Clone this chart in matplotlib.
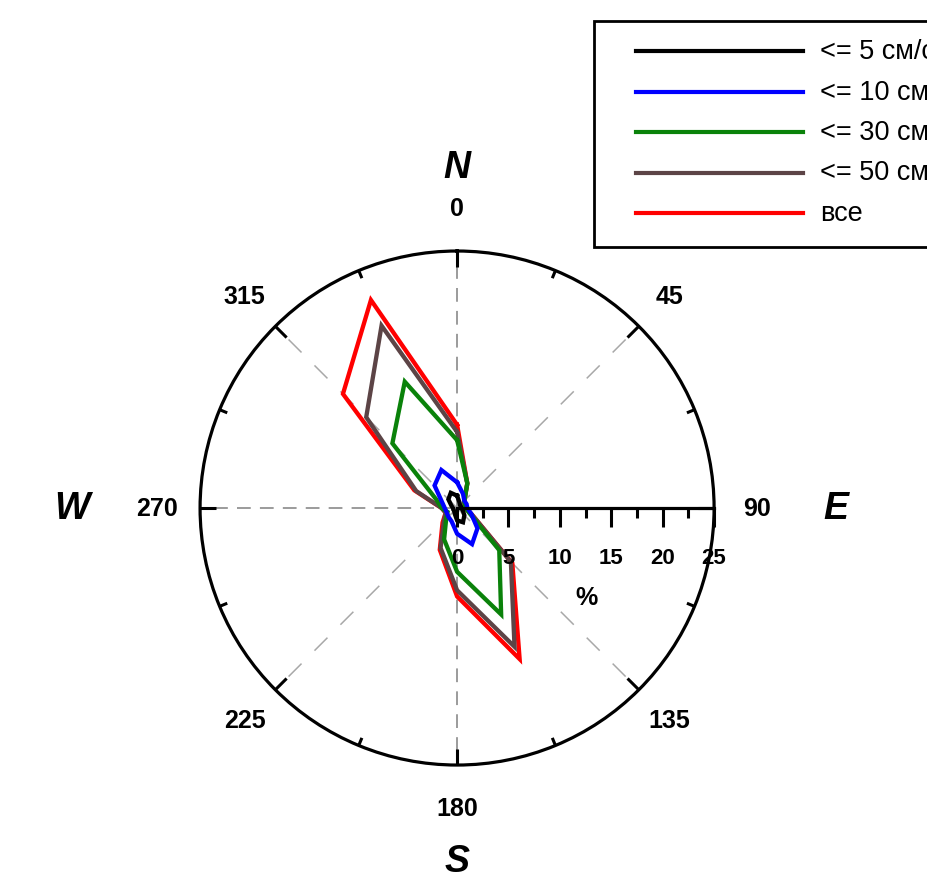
import numpy as np
import matplotlib
matplotlib.use("Agg")
import matplotlib.pyplot as plt
from matplotlib.lines import Line2D
from matplotlib.patches import Rectangle

plt.rcParams['font.family'] = ['Liberation Sans', 'DejaVu Sans']

# 16 directions, degrees clockwise from north
directions = np.arange(0, 360, 22.5)

# frequency, %
speed_5 = [1.2, 0.6, 0.4, 0.4, 0.4, 0.6, 1.0, 1.5, 1.2, 0.6, 0.4, 0.4, 0.4, 0.6, 1.2, 1.6]
speed_10 = [2.5, 1.5, 1.0, 1.0, 1.0, 1.5, 2.8, 3.8, 2.5, 1.4, 1.2, 1.1, 1.2, 1.6, 3.1, 4.0]
speed_30 = [6.6, 2.6, 1.0, 0.8, 0.8, 1.3, 5.8, 11.2, 6.2, 3.3, 1.5, 1.0, 1.5, 2.2, 8.9, 13.3]
speed_50 = [7.4, 2.6, 1.0, 0.8, 0.8, 1.5, 7.4, 14.6, 8.0, 4.2, 1.8, 1.2, 1.5, 4.3, 12.5, 19.2]
speed_all = [8.1, 2.6, 1.0, 0.8, 0.8, 1.5, 7.6, 15.9, 8.6, 4.4, 2.0, 1.2, 1.5, 4.5, 15.7, 21.9]

labels = ['<= 5 см/с', '<= 10 см/с', '<= 30 см/с', '<= 50 см/с', 'все']
series = [speed_5, speed_10, speed_30, speed_50, speed_all]
colors = ['#000000', '#0000ff', '#0a820a', '#5c4446', '#ff0000']

angle_ticks = [0, 45, 90, 135, 180, 225, 270, 315]
r_ticks = [0, 5, 10, 15, 20, 25]
compass = ['N', 'E', 'S', 'W']

fig = plt.figure(figsize=(9.28, 8.79), dpi=100)
rect = [0.2156, 0.1285, 0.5539, 0.5848]

# polar part
ax = fig.add_axes(rect, projection='polar')
ax.set_theta_zero_location('N')
ax.set_theta_direction(-1)
ax.set_ylim(0, 25)
ax.set_yticks([])
ax.set_xticks(np.deg2rad(angle_ticks))
ax.set_xticklabels([])
ax.tick_params(axis='x', length=0)
ax.xaxis.grid(True, linestyle=(0, (9, 6)), color='#808080', lw=1.1)
for i, gl in enumerate(ax.xaxis.get_gridlines()):
    if angle_ticks[i] % 90:
        gl.set_color('#a8a8a8')
        gl.set_linestyle((0, (12, 12)))
ax.spines['polar'].set_linewidth(2.3)

# inward ticks on the rim, long every 45, short in between
for a in np.arange(0, 360, 22.5):
    tl = 1.55 if a % 45 == 0 else 0.8
    ax.plot([np.deg2rad(a)] * 2, [25 - tl, 25], color='black', lw=2.2,
            solid_capstyle='butt', clip_on=False)

# draw biggest first so the small ones sit on top
for vals, col in reversed(list(zip(series, colors))):
    th = np.deg2rad(np.append(directions, directions[0]))
    rr = np.append(vals, vals[0])
    ax.plot(th, rr, color=col, lw=3.1, solid_joinstyle='miter', clip_on=False)

for a in angle_ticks:
    ax.text(np.deg2rad(a), 29.2, str(a), ha='center', va='center',
            fontsize=18, fontweight='bold', clip_on=False)

compass_r = [33.2, 36.8, 34.3, 37.5]
for k, (letter, rr) in enumerate(zip(compass, compass_r)):
    ax.text(np.deg2rad(90 * k), rr, letter, ha='center', va='center',
            fontsize=27, fontweight='bold', fontstyle='italic', clip_on=False)

# radial scale along east
ax2 = fig.add_axes(rect)
ax2.patch.set_visible(False)
ax2.set_xlim(-25, 25)
ax2.set_ylim(-25, 25)
for s in ['top', 'right', 'left']:
    ax2.spines[s].set_visible(False)
ax2.spines['bottom'].set_position(('data', 0))
ax2.spines['bottom'].set_bounds(0, 25)
ax2.spines['bottom'].set_linewidth(2.3)
ax2.set_yticks([])
ax2.set_xticks(r_ticks)
ax2.set_xticklabels([str(v) for v in r_ticks], fontsize=16, fontweight='bold')
ax2.set_xticks(np.arange(2.5, 25, 5), minor=True)
ax2.tick_params(axis='x', which='major', direction='out', length=14, width=2.2, pad=14)
ax2.tick_params(axis='x', which='minor', direction='out', length=7, width=2.2)
ax2.set_xlabel('%', fontsize=18, fontweight='bold')
ax2.xaxis.set_label_coords(0.752, 0.35)

# legend box, runs off the right edge like the original
W, H = 928.0, 879.0
fig.add_artist(Rectangle((594 / W, 1 - 248 / H), 400 / W, 226 / H,
                         transform=fig.transFigure, facecolor='white',
                         edgecolor='black', lw=2, zorder=5))
for i, (lab, col) in enumerate(zip(labels, colors)):
    y = 1 - (52 + 40.5 * i) / H
    fig.add_artist(Line2D([636 / W, 803 / W], [y, y], transform=fig.transFigure,
                          color=col, lw=3.0, zorder=6))
    fig.text(820 / W, y, lab, fontsize=19.5, va='center', ha='left', zorder=6)

fig.savefig('out.png', dpi=100)
